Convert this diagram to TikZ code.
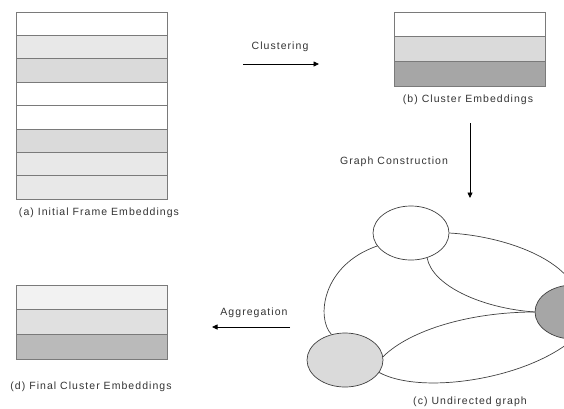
\documentclass[tikz,border=0pt]{standalone}
\usepackage{fontspec}
\setmainfont{Liberation Sans}[LetterSpace=10]
\usetikzlibrary{shapes.geometric,arrows.meta}

\definecolor{rule}{HTML}{7A7A7A}
\definecolor{ink}{HTML}{333333}
\definecolor{fillA}{HTML}{E8E8E8}
\definecolor{fillB}{HTML}{DADADA}
\definecolor{fillC}{HTML}{A6A6A6}
\definecolor{fillD}{HTML}{F2F2F2}
\definecolor{fillE}{HTML}{E0E0E0}
\definecolor{fillF}{HTML}{BABABA}

\begin{document}
\begin{tikzpicture}[x=1pt,y=-1pt,
  cell/.style={draw=rule, line width=0.7pt, fill=#1, minimum width=151pt,
               inner sep=0pt, outer sep=0pt, anchor=north west},
  rowa/.style={cell=#1, minimum height=23.375pt},
  rowb/.style={cell=#1, minimum height=24.67pt},
  caption/.style={text=ink, font=\fontsize{10.5}{12}\selectfont, inner sep=0pt},
  vertex/.style={ellipse, draw=black!75, line width=0.7pt, fill=#1,
                 minimum width=76pt, minimum height=54pt, inner sep=0pt},
  link/.style={draw=black!75, line width=0.7pt},
  flow/.style={line width=0.8pt, -{Triangle[length=5.5pt,width=5pt]}}
]
\useasboundingbox (0,0) rectangle (564,408);
\clip (0,0) rectangle (564,408);

% (a) initial frame embeddings: eight stacked rows
\node[rowa=white] (a1) at (16,12) {};
\node[rowa=fillA] (a2) at (16,35.375) {};
\node[rowa=fillB] (a3) at (16,58.75) {};
\node[rowa=white] (a4) at (16,82.125) {};
\node[rowa=white] (a5) at (16,105.5) {};
\node[rowa=fillB] (a6) at (16,128.875) {};
\node[rowa=fillA] (a7) at (16,152.25) {};
\node[rowa=fillA] (a8) at (16,175.625) {};
\node[caption] (capa) at (99,213) {(a) Initial Frame Embeddings};

% (b) cluster embeddings
\node[rowb=white] (b1) at (394,12) {};
\node[rowb=fillB] (b2) at (394,36.67) {};
\node[rowb=fillC] (b3) at (394,61.33) {};
\node[caption] (capb) at (468,100) {(b) Cluster Embeddings};

% (d) final cluster embeddings
\node[rowb=fillD] (d1) at (16,285) {};
\node[rowb=fillE] (d2) at (16,309.67) {};
\node[rowb=fillF] (d3) at (16,334.33) {};
\node[caption] (capd) at (91,387) {(d) Final Cluster Embeddings};

% (c) undirected graph
\node[vertex=white] (g1) at (411,233) {};
\node[vertex=fillB] (g2) at (345,360) {};
\node[vertex=fillC] (g3) at (573,312) {};
\node[caption] (capc) at (470,402) {(c) Undirected graph};

\path[link] (g1.east) .. controls (500,236) and (555,255) .. (g3.north);
\path[link] (g1.-57) .. controls (432,285) and (480,308) .. (g3.west);
\path[link] (g1.201) .. controls (322,265) and (316,318) .. (g2.118);
\path[link] (g2.5) .. controls (410,330) and (470,312) .. (g3.west);
\path[link] (g2.-20) .. controls (420,395) and (525,380) .. (g3.south);

% process arrows with their labels
\coordinate (c1s) at (243,64);
\coordinate (c1e) at (319,64);
\draw[flow] (c1s) -- (c1e);
\node[caption] (lc1) at (280,47) {Clustering};

\coordinate (c2s) at (470,123);
\coordinate (c2e) at (470,198);
\draw[flow] (c2s) -- (c2e);
\node[caption] (lc2) at (394,162) {Graph Construction};

\coordinate (c3s) at (290,327);
\coordinate (c3e) at (212,327);
\draw[flow] (c3s) -- (c3e);
\node[caption] (lc3) at (254,313) {Aggregation};
\end{tikzpicture}
\end{document}
